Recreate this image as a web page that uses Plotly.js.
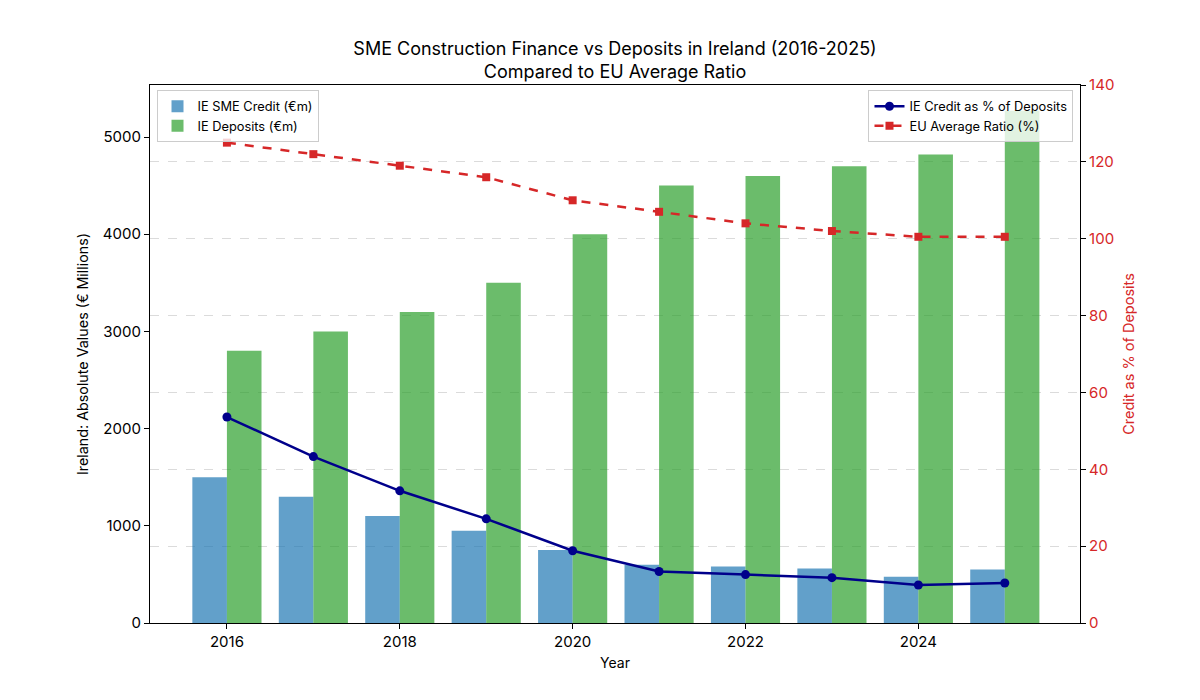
<!DOCTYPE html>
<html>
<head>
<meta charset="utf-8">
<script src="https://cdn.plot.ly/plotly-3.0.1.min.js"></script>
<style>
  html, body { margin: 0; padding: 0; background: #fff; }
  #chart { width: 1200px; height: 700px; }
</style>
</head>
<body>
<div id="chart"></div>
<script>
// values
const years = [2016, 2017, 2018, 2019, 2020, 2021, 2022, 2023, 2024, 2025];
const sme_credit = [1500, 1300, 1100, 950, 750, 600, 580, 560, 475, 550];
const deposits = [2800, 3000, 3200, 3500, 4000, 4500, 4600, 4700, 4820, 5270];
const ie_ratio = [53.6, 43.3, 34.4, 27.1, 18.8, 13.4, 12.6, 11.8, 9.9, 10.4];
const eu_ratio = [125, 122, 119, 116, 110, 107, 104, 102, 100.5, 100.5];

const font_family = "Inter, 'Open Sans', 'DejaVu Sans', sans-serif";
const red = "#d62728";

let data = [];
data.push({
    x: years, y: sme_credit, type: "bar", name: "IE SME Credit (€m)",
    width: 0.4, offset: -0.4,
    marker: { color: "rgba(31,119,180,0.7)", line: { width: 0 } },
    legend: "legend"
});
data.push({
    x: years, y: deposits, type: "bar", name: "IE Deposits (€m)",
    width: 0.4, offset: 0,
    marker: { color: "rgba(44,160,44,0.7)", line: { width: 0 } },
    legend: "legend"
});
data.push({
    x: years, y: ie_ratio, type: "scatter", mode: "lines+markers", yaxis: "y2",
    name: "IE Credit as % of Deposits",
    line: { color: "#00008b", width: 2.5 },
    marker: { color: "#00008b", size: 9, symbol: "circle" },
    legend: "legend2"
});
data.push({
    x: years, y: eu_ratio, type: "scatter", mode: "lines+markers", yaxis: "y2",
    name: "EU Average Ratio (%)",
    line: { color: red, width: 2.5, dash: "dash" },
    marker: { color: red, size: 8, symbol: "square" },
    legend: "legend2"
});

let layout = {
    width: 1200,
    height: 700,
    margin: { l: 150, r: 120, t: 85, b: 77 },
    paper_bgcolor: "#fff",
    plot_bgcolor: "#fff",
    font: { family: font_family, color: "#000", size: 14 },
    title: {
        text: "SME Construction Finance vs Deposits in Ireland (2016-2025)<br>Compared to EU Average Ratio",
        x: 0.5125, xanchor: "center", y: 0.922, yanchor: "top",
        font: { size: 18, family: font_family }
    },
    showlegend: true,
    xaxis: {
        range: [2015.11, 2025.87],
        tickvals: [2016, 2018, 2020, 2022, 2024],
        ticks: "outside", ticklen: 5, tickcolor: "#000",
        tickfont: { size: 15 },
        showline: true, linecolor: "#000", linewidth: 1.2, mirror: true,
        showgrid: false, zeroline: false,
        title: { text: "Year", font: { size: 14 }, standoff: 8 }
    },
    yaxis: {
        range: [0, 5535],
        tickvals: [0, 1000, 2000, 3000, 4000, 5000],
        ticks: "outside", ticklen: 5, tickcolor: "#000",
        tickfont: { size: 15 },
        showline: true, linecolor: "#000", linewidth: 1.2,
        showgrid: false, zeroline: false,
        title: { text: "Ireland: Absolute Values (€ Millions)", font: { size: 14.3 }, standoff: 10 }
    },
    yaxis2: {
        overlaying: "y", side: "right",
        range: [0, 140],
        tickvals: [0, 20, 40, 60, 80, 100, 120, 140],
        ticks: "outside", ticklen: 5, tickcolor: "#000",
        tickfont: { size: 15, color: red },
        showline: true, linecolor: "#000", linewidth: 1.2,
        showgrid: true, gridcolor: "rgba(190,190,190,0.55)", griddash: "dash", gridwidth: 0.8,
        zeroline: false,
        title: { text: "Credit as % of Deposits", font: { size: 14.5, color: red }, standoff: 10 }
    },
    legend: {
        x: 0.007, y: 0.99, xanchor: "left", yanchor: "top",
        bgcolor: "rgba(255,255,255,0.8)", bordercolor: "#cccccc", borderwidth: 1,
        font: { size: 12.8 }, tracegroupgap: 0, itemwidth: 30
    },
    legend2: {
        x: 0.993, y: 0.99, xanchor: "right", yanchor: "top",
        bgcolor: "rgba(255,255,255,0.8)", bordercolor: "#cccccc", borderwidth: 1,
        font: { size: 12.8 }, tracegroupgap: 0, itemwidth: 30
    }
};

Plotly.newPlot(document.getElementById("chart"), data, layout, { displayModeBar: false, responsive: false });
</script>
</body>
</html>
